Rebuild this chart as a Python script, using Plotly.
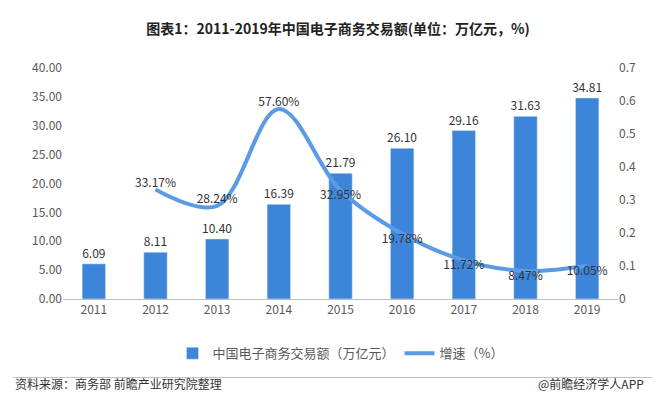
import plotly.graph_objects as go

years = ["2011", "2012", "2013", "2014", "2015", "2016", "2017", "2018", "2019"]
volume = [6.09, 8.11, 10.40, 16.39, 21.79, 26.10, 29.16, 31.63, 34.81]
growth_years = years[1:]
growth = [0.3317, 0.2824, 0.5760, 0.3295, 0.1978, 0.1172, 0.0847, 0.1005]
growth_pos = ["top center", "top center", "top center", "bottom center",
              "bottom center", "bottom center", "bottom center", "bottom center"]

font = "Microsoft YaHei, Noto Sans CJK SC, sans-serif"

fig = go.Figure()
fig.add_bar(x=years, y=volume, name="中国电子商务交易额（万亿元）",
            marker_color="#3d85d8", width=0.38,
            text=[f"{v:.2f}" for v in volume], textposition="outside",
            textfont=dict(size=12, color="#333"), cliponaxis=False)
fig.add_scatter(x=growth_years, y=growth, name="增速（%）", yaxis="y2",
                mode="lines+text", line=dict(color="#5b9be6", width=4, shape="spline"),
                text=[f"{g*100:.2f}%" for g in growth], textposition=growth_pos,
                textfont=dict(size=12, color="#333"), cliponaxis=False)

fig.update_layout(
    width=660, height=409,
    margin=dict(l=55, r=50, t=60, b=118),
    plot_bgcolor="white", paper_bgcolor="white",
    font=dict(family=font, size=12, color="#595959"),
    uniformtext=dict(minsize=12, mode="show"),
    title=dict(text="<b>图表1：2011-2019年中国电子商务交易额(单位：万亿元，%)</b>",
               x=0.5, y=0.96, font=dict(size=14, color="#222")),
    xaxis=dict(showline=True, linecolor="#bfbfbf", ticks=""),
    yaxis=dict(range=[0, 40], dtick=5, tickformat=".2f", showgrid=False, zeroline=False),
    yaxis2=dict(range=[0, 0.7], dtick=0.1, overlaying="y", side="right",
                showgrid=False, zeroline=False),
    legend=dict(orientation="h", x=0.5, xanchor="center", y=-0.17, yanchor="top",
                font=dict(size=13, color="#595959")),
    showlegend=True,
)
fig.add_shape(type="line", xref="paper", yref="paper", x0=-0.09, x1=1.08,
              y0=-0.34, y1=-0.34, line=dict(color="#bfbfbf", width=1))
fig.add_annotation(text="资料来源：商务部 前瞻产业研究院整理", xref="paper", yref="paper",
                   x=-0.09, y=-0.41, xanchor="left", showarrow=False,
                   font=dict(size=12, color="#333"))
fig.add_annotation(text="@前瞻经济学人APP", xref="paper", yref="paper",
                   x=1.05, y=-0.41, xanchor="right", showarrow=False,
                   font=dict(size=12, color="#333"))

fig.write_html("out.html")
